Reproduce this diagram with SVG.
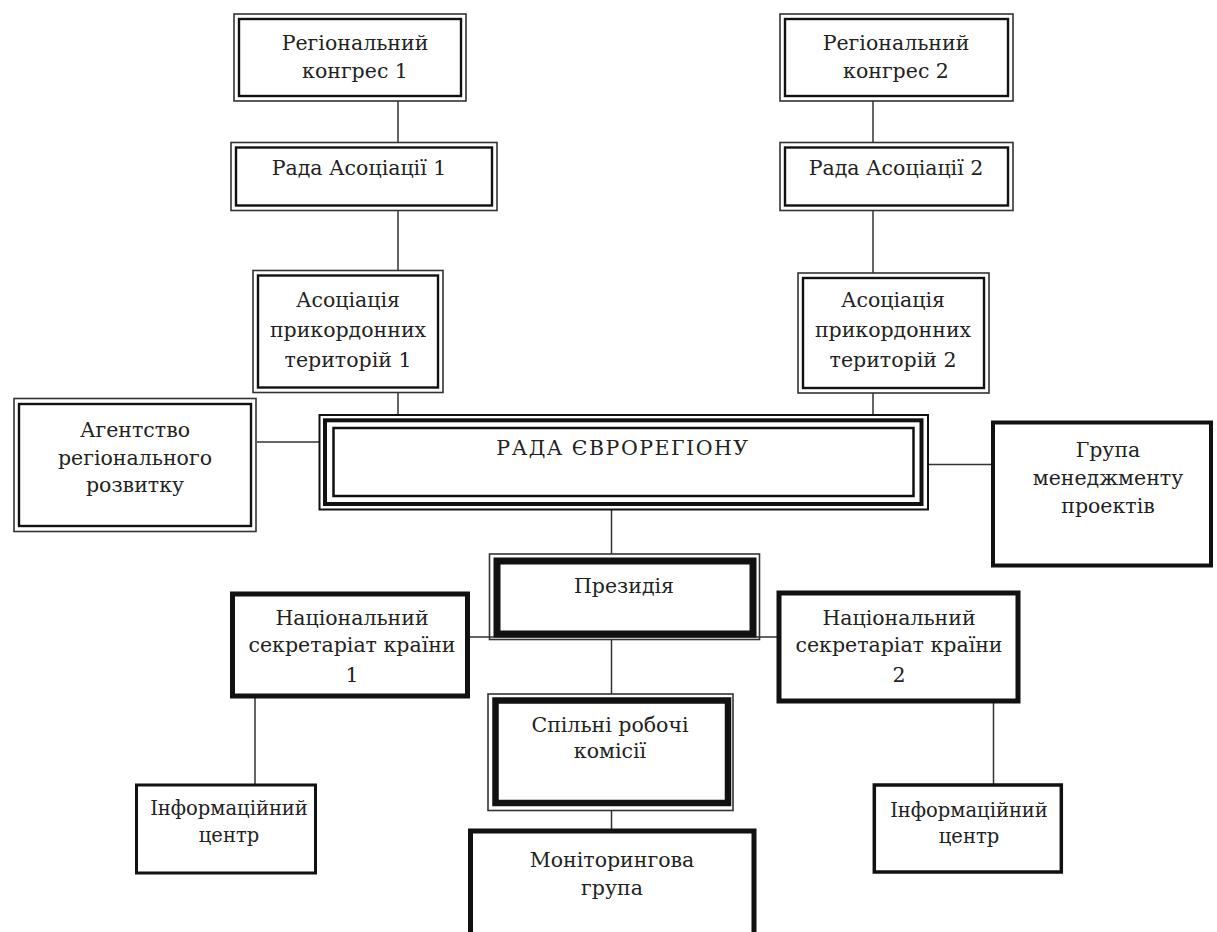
<svg xmlns="http://www.w3.org/2000/svg" width="1217" height="932" viewBox="0 0 1217 932">
<style>
.t{font-family:"DejaVu Serif","Liberation Serif",serif;font-size:20.5px;fill:#222;text-anchor:middle}
.s{font-size:19.5px}
.o{fill:none;stroke:#333;stroke-width:1.6}
.i{fill:none;stroke:#111;stroke-width:2.4}
.tk{fill:none;stroke:#111}
.c{fill:none;stroke:#333;stroke-width:1.5}
</style>
<rect width="1217" height="932" fill="#fff"/>
<g id="connectors">
<path class="c" d="M398 101V142M398 211V270M398 393V415M873 101V142M873 211V273M873 393V415M257 442H319M929 464.5H993M611.5 510V554M468 637H777M611.5 640V694M611.5 811V829M255 698V784M993.5 703V784"/>
</g>
<g id="congress1"><rect class="o" x="234" y="14" width="232" height="87"/><rect class="i" x="239" y="19" width="222" height="77"/><text class="t" x="355" y="50">Регіональний</text><text class="t" x="355" y="78">конгрес 1</text></g>
<g id="congress2"><rect class="o" x="780" y="14" width="233" height="87"/><rect class="i" x="785" y="19" width="223" height="77"/><text class="t" x="896" y="50">Регіональний</text><text class="t" x="896" y="78">конгрес 2</text></g>
<g id="council1"><rect class="o" x="231" y="142.5" width="266" height="68"/><rect class="i" x="236" y="147.5" width="256" height="58"/><text class="t" x="359" y="175">Рада Асоціації 1</text></g>
<g id="council2"><rect class="o" x="780" y="142.5" width="233" height="68"/><rect class="i" x="785" y="147.5" width="223" height="58"/><text class="t" x="896" y="175">Рада Асоціації 2</text></g>
<g id="assoc1"><rect class="o" x="253" y="270.5" width="190" height="122"/><rect class="i" x="258" y="275.5" width="180" height="112"/><text class="t" x="348" y="307">Асоціація</text><text class="t" x="348" y="337">прикордонних</text><text class="t" x="348" y="367">територій 1</text></g>
<g id="assoc2"><rect class="o" x="798" y="273" width="191" height="120"/><rect class="i" x="803" y="278" width="181" height="110"/><text class="t" x="893" y="307">Асоціація</text><text class="t" x="893" y="337">прикордонних</text><text class="t" x="893" y="367">територій 2</text></g>
<g id="agency"><rect class="o" x="14" y="398.5" width="242" height="133"/><rect class="i" x="19" y="404" width="232" height="122"/><text class="t" x="135" y="437">Агентство</text><text class="t" x="135" y="465">регіонального</text><text class="t" x="135" y="492">розвитку</text></g>
<g id="euroregion-council"><rect class="tk" stroke-width="2" x="319.5" y="415" width="608.5" height="94.5"/><rect class="tk" stroke-width="4" x="325" y="420.3" width="596.5" height="83.7"/><rect class="tk" stroke-width="2.5" x="333.5" y="428" width="580" height="68"/><text class="t" x="623" y="455" letter-spacing="1.5">РАДА ЄВРОРЕГІОНУ</text></g>
<g id="pm-group"><rect class="tk" stroke-width="4" x="993" y="422.5" width="218" height="143"/><text class="t" x="1108" y="457">Група</text><text class="t" x="1108" y="485">менеджменту</text><text class="t" x="1108" y="513">проектів</text></g>
<g id="presidium"><rect class="o" x="489.5" y="554" width="270" height="85.5"/><rect class="tk" stroke-width="7" x="497" y="561" width="256" height="73"/><text class="t" x="624" y="593">Президія</text></g>
<g id="secretariat1"><rect class="tk" stroke-width="5" x="232.5" y="594" width="235" height="102"/><text class="t" x="352" y="625">Національний</text><text class="t" x="352" y="652">секретаріат країни</text><text class="t" x="352" y="682">1</text></g>
<g id="secretariat2"><rect class="tk" stroke-width="5" x="779" y="593" width="239" height="108"/><text class="t" x="899" y="625">Національний</text><text class="t" x="899" y="652">секретаріат країни</text><text class="t" x="899" y="682">2</text></g>
<g id="commissions"><rect class="o" x="488" y="694" width="245" height="116.5"/><rect class="tk" stroke-width="6.5" x="495.5" y="700.5" width="232.5" height="102.5"/><text class="t" x="610" y="732">Спільні робочі</text><text class="t" x="610" y="758">комісії</text></g>
<g id="monitoring"><rect class="tk" stroke-width="5" x="470.5" y="831" width="283.5" height="120"/><text class="t" x="612" y="867">Моніторингова</text><text class="t" x="612" y="895">група</text></g>
<g id="info1"><rect class="tk" stroke-width="3" x="136.5" y="785" width="179" height="88"/><text class="t s" x="229" y="815">Інформаційний</text><text class="t s" x="229" y="842">центр</text></g>
<g id="info2"><rect class="tk" stroke-width="3.5" x="874.3" y="785" width="187" height="87"/><text class="t s" x="969" y="817">Інформаційний</text><text class="t s" x="969" y="843">центр</text></g>
</svg>
